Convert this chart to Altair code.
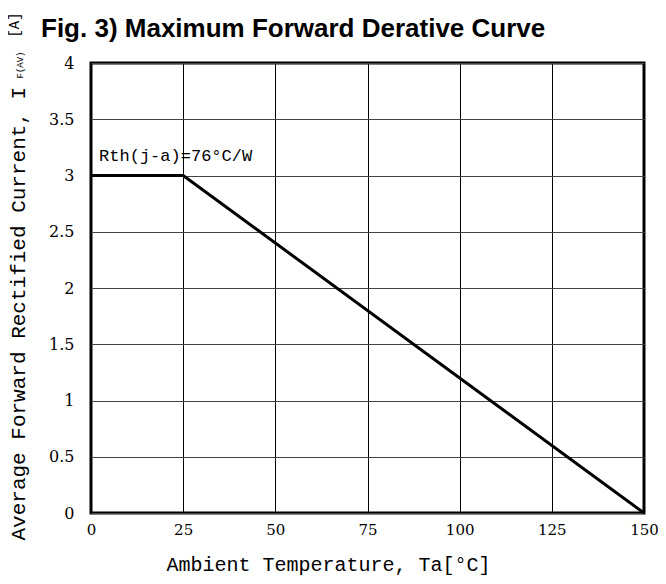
import altair as alt
import pandas as pd

curve_x = [0, 25, 150]
curve_y = [3, 3, 0]
x_ticks = [0, 25, 50, 75, 100, 125, 150]
y_ticks = [0, 0.5, 1, 1.5, 2, 2.5, 3, 3.5, 4]
note_text = ["Rth(j-a)=76°C/W"]
note_x = [2.2]
note_y = [3.17]
chart_title = ["Fig. 3) Maximum Forward Derative Curve"]
y_title_main = "Average Forward Rectified Current, I"
y_title_sub = ["F(AV)"]
y_title_unit = ["[A]"]

curve = pd.DataFrame({"x": curve_x, "y": curve_y})
note = pd.DataFrame({"x": note_x, "y": note_y, "t": note_text})

tick_font = "DejaVu Serif"
title_font = "Liberation Mono"

xs = alt.Scale(domain=[0, 150], nice=False, zero=False)
ys = alt.Scale(domain=[0, 4], nice=False, zero=False)

line = alt.Chart(curve).mark_line(color="black", strokeWidth=3).encode(
    x=alt.X("x:Q", scale=xs, axis=alt.Axis(
        values=x_ticks, title="Ambient Temperature, Ta[°C]",
        labelFont=tick_font, labelFontSize=15, labelColor="black",
        labelPadding=9, ticks=False, domain=False,
        grid=True, gridColor="black", gridWidth=1, gridOpacity=1,
        titleFont=title_font, titleFontSize=20, titleFontWeight="normal",
        titleColor="black", titleX=237, titleY=51, titleAlign="center",
        titleBaseline="middle", labelFlush=False)),
    y=alt.Y("y:Q", scale=ys, axis=alt.Axis(
        values=y_ticks, title=y_title_main,
        labelFont=tick_font, labelFontSize=16, labelColor="black",
        labelPadding=17, ticks=False, domain=False, format="~g",
        grid=True, gridColor="#444444", gridWidth=1, gridOpacity=1,
        titleFont=title_font, titleFontSize=21, titleFontWeight="normal",
        titleColor="black", titleX=-73, titleY=477, titleAlign="left",
        titleBaseline="middle", titleAngle=270, labelFlush=False)),
)

text = alt.Chart(note).mark_text(
    align="left", baseline="middle", font=title_font, fontSize=17, color="black"
).encode(x=alt.X("x:Q", scale=xs), y=alt.Y("y:Q", scale=ys), text="t:N")

sub = alt.Chart(pd.DataFrame({"t": y_title_sub})).mark_text(
    align="center", baseline="middle", angle=270, font=title_font,
    fontSize=9, color="black"
).encode(x=alt.value(-71.5), y=alt.value(2), text="t:N")

unit = alt.Chart(pd.DataFrame({"t": y_title_unit})).mark_text(
    align="center", baseline="middle", angle=270, font=title_font,
    fontSize=14, color="black"
).encode(x=alt.value(-76), y=alt.value(-38), text="t:N")

head = alt.Chart(pd.DataFrame({"t": chart_title})).mark_text(
    align="left", baseline="alphabetic", font="Liberation Sans",
    fontSize=26, fontWeight="bold", color="black"
).encode(x=alt.value(-50), y=alt.value(-26), text="t:N")

chart = alt.layer(line, text, sub, unit, head).properties(
    width=553, height=450,
    padding={"left": 83, "top": 55, "right": 14, "bottom": 63},
    autosize=alt.AutoSizeParams(type="none"),
    background="white",
).configure_view(stroke="black", strokeWidth=3)

chart.save("out.html", embed_options={"renderer": "svg", "actions": False})
